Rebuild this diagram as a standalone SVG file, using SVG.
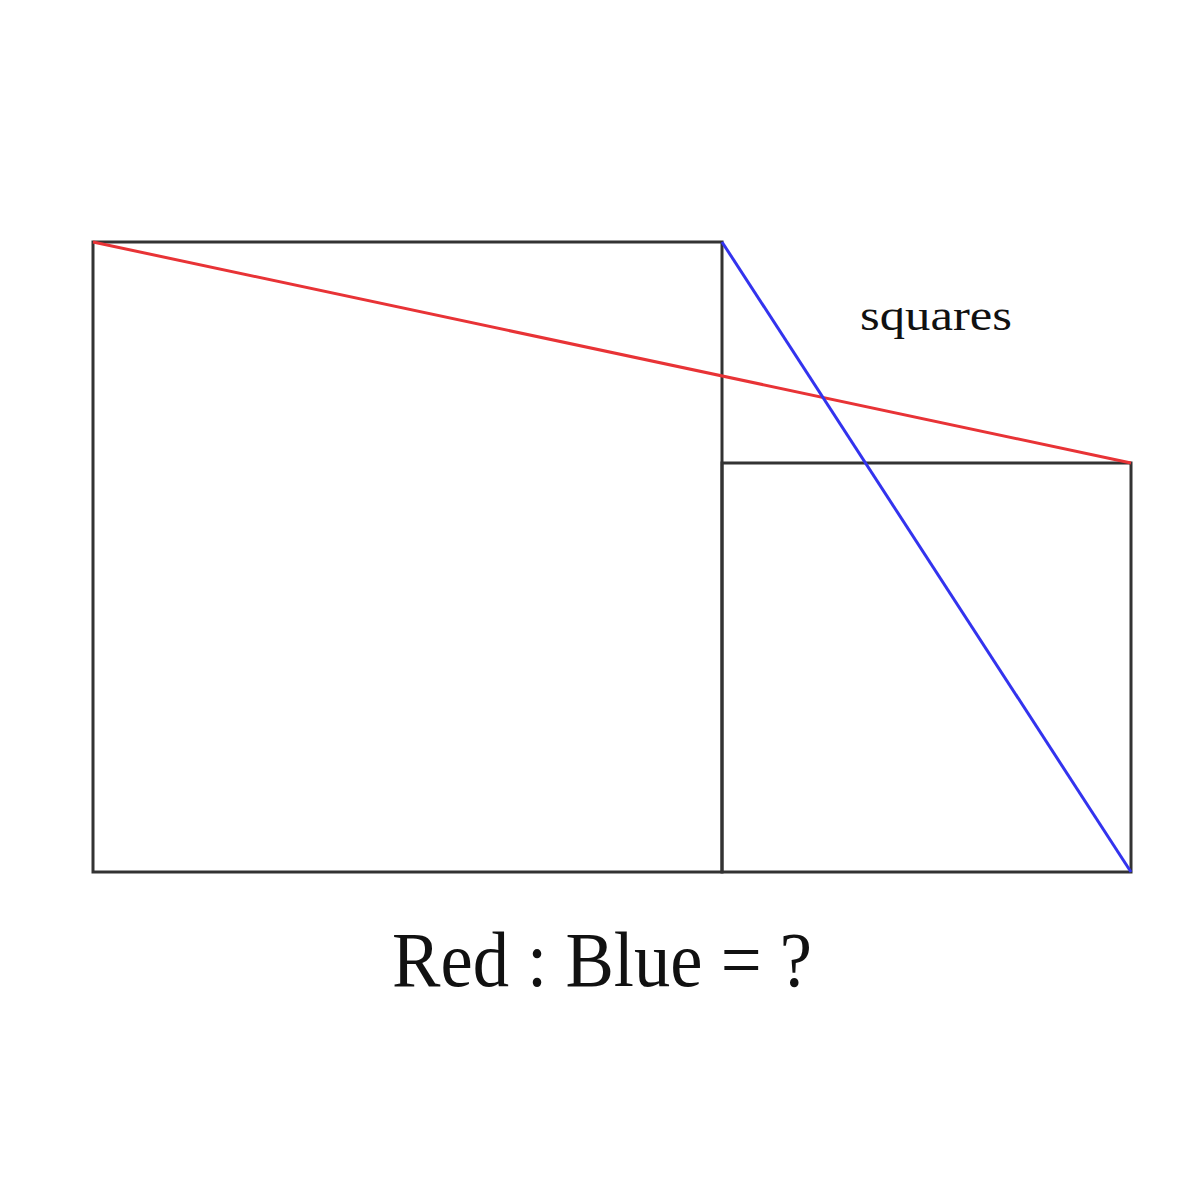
<svg xmlns="http://www.w3.org/2000/svg" width="1200" height="1200" viewBox="0 0 1200 1200">
<style>
.sq{fill:none;stroke:#333;stroke-width:3}
.lbl{font-family:"Liberation Serif","DejaVu Serif",serif;fill:#111}
</style>
<rect width="1200" height="1200" fill="#fff"/>
<g id="big-square"><rect class="sq" x="93" y="242" width="629" height="630"/></g>
<g id="small-square"><rect class="sq" x="722" y="463" width="409" height="409"/></g>
<g id="connectors">
<line x1="93" y1="242" x2="1131" y2="463" stroke="#e83336" stroke-width="3"/>
<line x1="722" y1="242" x2="1131" y2="872" stroke="#3333ee" stroke-width="3"/>
</g>
<g id="labels">
<text class="lbl" x="860" y="330" font-size="44" textLength="152" lengthAdjust="spacingAndGlyphs">squares</text>
<text class="lbl" x="392" y="986" font-size="78" textLength="420" lengthAdjust="spacingAndGlyphs">Red : Blue = ?</text>
</g>
</svg>
